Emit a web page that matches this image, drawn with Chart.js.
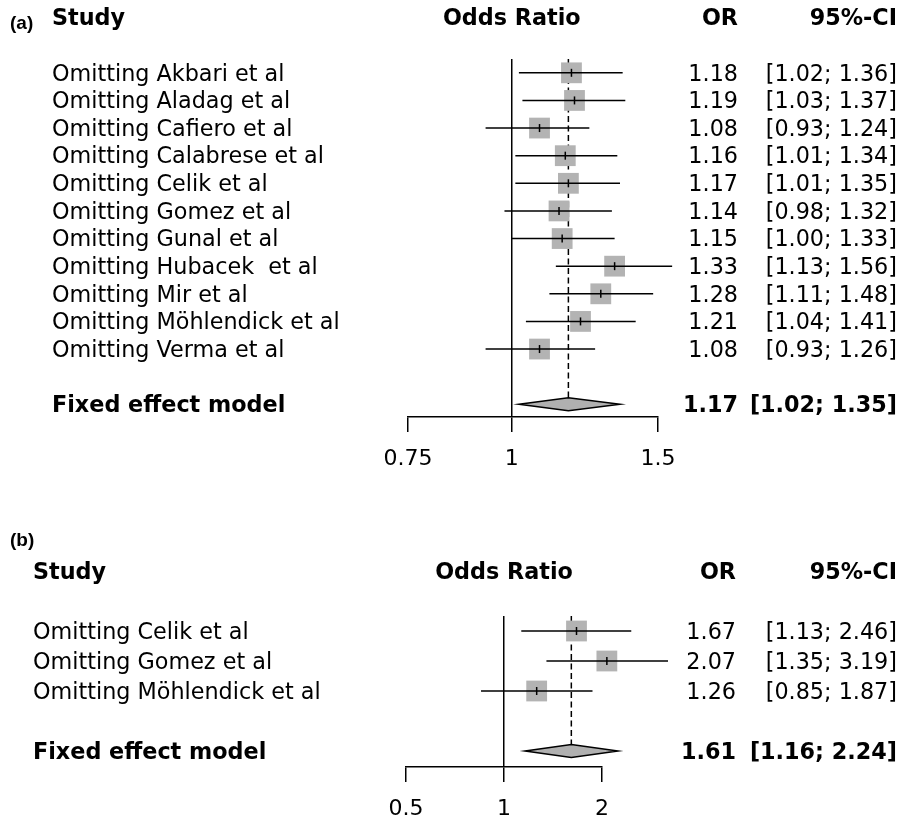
<!DOCTYPE html>
<html>
<head>
<meta charset="utf-8">
<script src="https://cdn.jsdelivr.net/npm/chart.js@4"></script>
<style>
  body { margin: 0; background: #fff; }
  #wrap { position: relative; width: 899px; height: 826px; }
  canvas { position: absolute; left: 0; }
</style>
</head>
<body>
<div id="wrap">
  <canvas id="chartA" width="899" height="480" style="top:0"></canvas>
  <canvas id="chartB" width="899" height="326" style="top:500px"></canvas>
</div>
<script>
// panel (a)
const studiesA = ['Omitting Akbari et al', 'Omitting Aladag et al', 'Omitting Cafiero et al',
  'Omitting Calabrese et al', 'Omitting Celik et al', 'Omitting Gomez et al', 'Omitting Gunal et al',
  'Omitting Hubacek  et al', 'Omitting Mir et al', 'Omitting Möhlendick et al', 'Omitting Verma et al'];
const orA    = [1.18, 1.19, 1.08, 1.16, 1.17, 1.14, 1.15, 1.33, 1.28, 1.21, 1.08];
const lowerA = [1.02, 1.03, 0.93, 1.01, 1.01, 0.98, 1.00, 1.13, 1.11, 1.04, 0.93];
const upperA = [1.36, 1.37, 1.24, 1.34, 1.35, 1.32, 1.33, 1.56, 1.48, 1.41, 1.26];
const fixedA = [1.17, 1.02, 1.35];   // OR, lower, upper
const ticksA = [0.75, 1, 1.5];

// panel (b)
const studiesB = ['Omitting Celik et al', 'Omitting Gomez et al', 'Omitting Möhlendick et al'];
const orB    = [1.67, 2.07, 1.26];
const lowerB = [1.13, 1.35, 0.85];
const upperB = [2.46, 3.19, 1.87];
const fixedB = [1.61, 1.16, 2.24];
const ticksB = [0.5, 1, 2];

const FONT = '"DejaVu Sans", sans-serif';
const fmt = v => v.toFixed(2);

function forest(id, p) {
  const fixedRow = p.names.length + 1;

  const forestPlugin = {
    id: 'forest',
    beforeDatasetsDraw(chart) {
      const { ctx, chartArea } = chart;
      const x = chart.scales.x, y = chart.scales.y;
      // dashed line at the pooled estimate
      const xf = x.getPixelForValue(p.fixed[0]);
      ctx.save();
      ctx.strokeStyle = '#000';
      ctx.lineWidth = 1.5;
      ctx.setLineDash([6, 3.5]);
      ctx.beginPath();
      ctx.moveTo(xf, chartArea.top);
      ctx.lineTo(xf, y.getPixelForValue(fixedRow) - 7);
      ctx.stroke();
      ctx.restore();
    },
    afterDatasetsDraw(chart) {
      const { ctx } = chart;
      const x = chart.scales.x, y = chart.scales.y;
      ctx.save();
      ctx.strokeStyle = '#000';
      ctx.lineWidth = 1.5;
      p.or.forEach((v, i) => {
        const yy = y.getPixelForValue(i);
        ctx.beginPath();
        ctx.moveTo(x.getPixelForValue(p.lower[i]), yy);
        ctx.lineTo(x.getPixelForValue(p.upper[i]), yy);
        ctx.stroke();
        const xv = x.getPixelForValue(v);
        ctx.beginPath();
        ctx.moveTo(xv, yy - 4);
        ctx.lineTo(xv, yy + 4);
        ctx.stroke();
      });
      // diamond for the fixed effect model
      const yd = y.getPixelForValue(fixedRow);
      ctx.beginPath();
      ctx.moveTo(x.getPixelForValue(p.fixed[1]), yd);
      ctx.lineTo(x.getPixelForValue(p.fixed[0]), yd - 6.5);
      ctx.lineTo(x.getPixelForValue(p.fixed[2]), yd);
      ctx.lineTo(x.getPixelForValue(p.fixed[0]), yd + 6.5);
      ctx.closePath();
      ctx.fillStyle = '#b0b0b0';
      ctx.fill();
      ctx.stroke();
      ctx.restore();
    },
    afterDraw(chart) {
      const { ctx } = chart;
      const x = chart.scales.x, y = chart.scales.y;
      const ty = i => y.getPixelForValue(i) + 2;
      ctx.save();
      ctx.fillStyle = '#000';
      ctx.textBaseline = 'middle';

      ctx.font = 'bold 19px "Liberation Sans", Arial, sans-serif';
      ctx.textAlign = 'left';
      ctx.fillText(p.panel, 10, p.panelY);

      ctx.font = 'bold ' + p.fs + 'px ' + FONT;
      ctx.fillText('Study', p.labelX, ty(-2));
      ctx.fillText('Fixed effect model', p.labelX, ty(fixedRow));
      ctx.textAlign = 'center';
      ctx.fillText('Odds Ratio', x.getPixelForValue(1), ty(-2));
      ctx.textAlign = 'right';
      ctx.fillText('OR', p.orX, ty(-2));
      ctx.fillText('95%-CI', p.ciX, ty(-2));
      ctx.fillText(fmt(p.fixed[0]), p.orX, ty(fixedRow));
      ctx.fillText('[' + fmt(p.fixed[1]) + '; ' + fmt(p.fixed[2]) + ']', p.ciX, ty(fixedRow));

      ctx.font = p.fs + 'px ' + FONT;
      p.names.forEach((n, i) => {
        ctx.textAlign = 'left';
        ctx.fillText(n, p.labelX, ty(i));
        ctx.textAlign = 'right';
        ctx.fillText(fmt(p.or[i]), p.orX, ty(i));
        ctx.fillText('[' + fmt(p.lower[i]) + '; ' + fmt(p.upper[i]) + ']', p.ciX, ty(i));
      });
      ctx.restore();
    }
  };

  return new Chart(document.getElementById(id), {
    type: 'scatter',
    data: {
      datasets: [{
        data: p.or.map((v, i) => ({ x: v, y: i })),
        pointStyle: 'rect',
        pointRadius: 14.7,
        pointHoverRadius: 14.7,
        backgroundColor: '#b3b3b3',
        pointBorderWidth: 0,
        clip: false
      }]
    },
    options: {
      responsive: false,
      animation: false,
      events: [],
      layout: { padding: p.padding },
      plugins: { legend: { display: false }, tooltip: { enabled: false } },
      scales: {
        x: {
          type: 'logarithmic',
          bounds: 'data',
          min: p.ticks[0],
          max: p.ticks[p.ticks.length - 1],
          afterBuildTicks: s => { s.ticks = p.ticks.map(v => ({ value: v })); },
          afterFit: s => { s.height = p.axisH; },
          ticks: {
            callback: v => String(v),
            font: { family: FONT, size: 22 },
            color: '#000',
            padding: 14,
            maxRotation: 0,
            autoSkip: false
          },
          grid: {
            color: c => (c.tick && c.tick.value === 1) ? '#000' : 'rgba(0,0,0,0)',
            lineWidth: 1.5,
            tickColor: '#000',
            tickLength: 15,
            tickWidth: 1.5
          },
          border: { display: true, color: '#000', width: 1.5 }
        },
        y: {
          type: 'linear',
          display: false,
          reverse: true,
          min: p.yMin,
          max: p.yMax
        }
      }
    },
    plugins: [forestPlugin]
  });
}

forest('chartA', {
  names: studiesA, or: orA, lower: lowerA, upper: upperA, fixed: fixedA, ticks: ticksA,
  panel: '(a)', panelY: 24, labelX: 52, orX: 738, ciX: 897, fs: 22.3,
  padding: { left: 408, right: 241, top: 59, bottom: 3 },
  axisH: 60, yMin: -0.5, yMax: 12.46
});

forest('chartB', {
  names: studiesB, or: orB, lower: lowerB, upper: upperB, fixed: fixedB, ticks: ticksB,
  panel: '(b)', panelY: 41, labelX: 33, orX: 736, ciX: 897, fs: 22.3,
  padding: { left: 406, right: 297, top: 116, bottom: 1 },
  axisH: 58, yMin: -0.5, yMax: 4.533
});
</script>
</body>
</html>
